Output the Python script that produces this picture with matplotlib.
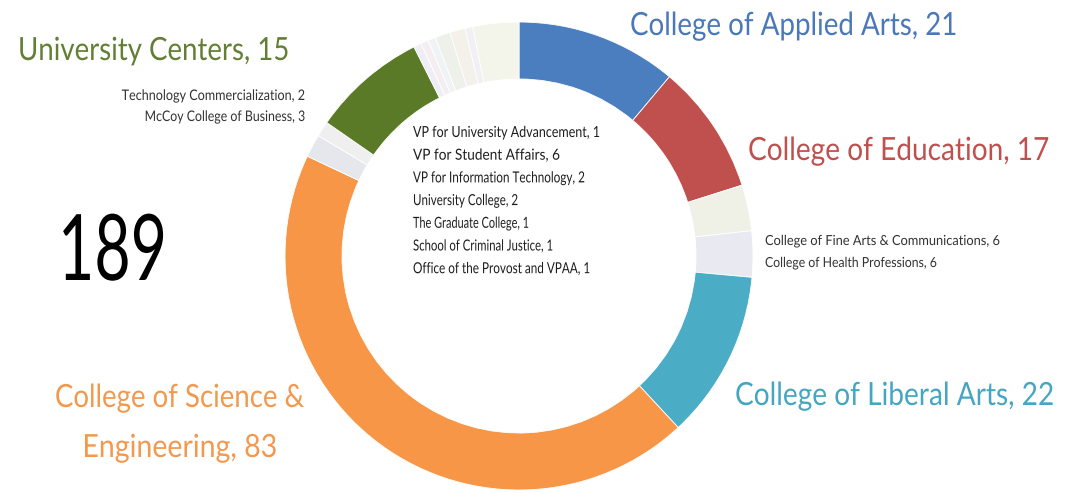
import matplotlib
matplotlib.use("Agg")
import matplotlib.pyplot as plt
import matplotlib.patheffects as pe
from matplotlib.text import Text
from matplotlib.transforms import Affine2D, Bbox

plt.rcParams['font.family'] = ['Lato', 'DejaVu Sans']

# faculty counts by unit, in clockwise order from 12 o'clock
units = ["College of Applied Arts", "College of Education",
         "College of Fine Arts & Communications", "College of Health Professions",
         "College of Liberal Arts", "College of Science & Engineering",
         "McCoy College of Business", "Technology Commercialization",
         "University Centers",
         "Office of the Provost and VPAA", "School of Criminal Justice",
         "The Graduate College", "University College",
         "VP for Information Technology", "VP for University Advancement",
         "VP for Student Affairs"]
counts = [21, 17, 6, 6, 22, 83, 3, 2, 15, 1, 1, 1, 2, 2, 1, 6]
colors = ["#4a7ebf", "#c0504d", "#eff1e6", "#e9e9f1", "#4bacc6", "#f79646",
          "#e6e7ec", "#efefef", "#5b7a27",
          "#eeeff6", "#f5eef0", "#f0f3f6", "#eef0ea", "#f3f1ea", "#f2f0f4",
          "#f3f4ea"]

# labels placed round the ring
big_labels = ["College of Applied Arts, 21", "College of Education, 17",
              "College of Liberal Arts, 22", "College of Science &\nEngineering, 83",
              "University Centers, 15"]
right_small = ["College of Fine Arts & Communications, 6",
               "College of Health Professions, 6"]
left_small = ["Technology Commercialization, 2", "McCoy College of Business, 3"]
inner_list = ["VP for University Advancement, 1", "VP for Student Affairs, 6",
              "VP for Information Technology, 2", "University College, 2",
              "The Graduate College, 1", "School of Criminal Justice, 1",
              "Office of the Provost and VPAA, 1"]
total = sum(counts)

W, H = 1068, 494
fig = plt.figure(figsize=(W / 100, H / 100), dpi=100)
ax = fig.add_axes([0, 0, 1, 1])

cx, cy = 519, H - 256
ax.pie(counts, colors=colors, startangle=90, counterclock=False,
       center=(cx, cy), radius=234,
       wedgeprops=dict(width=57, edgecolor="white", linewidth=0.6))
ax.set_xlim(0, W)
ax.set_ylim(0, H)
ax.set_aspect("equal")
ax.axis("off")

renderer = fig.canvas.get_renderer()


class Squeeze(pe.AbstractPathEffect):
    """Narrow the glyphs horizontally (condensed look) about the anchor."""

    def __init__(self, sx, ha):
        super().__init__()
        self.sx = sx
        self.ha = ha

    def draw_path(self, renderer, gc, tpath, affine, rgbFace=None):
        xs = tpath.vertices[:, 0]
        if self.ha == "right":
            a = xs.max()
        elif self.ha == "center":
            a = (xs.min() + xs.max()) / 2
        else:
            a = 0
        squeeze = Affine2D().translate(-a, 0).scale(self.sx, 1).translate(a, 0)
        renderer.draw_path(gc, tpath, squeeze + affine, rgbFace)


class NarrowText(Text):
    """Text whose reported extent follows the squeezed glyphs."""
    sx = 1.0

    def get_window_extent(self, renderer=None, dpi=None):
        bb = super().get_window_extent(renderer, dpi)
        ha = self.get_horizontalalignment()
        a = {"left": bb.x0, "right": bb.x1}.get(ha, (bb.x0 + bb.x1) / 2)
        return Bbox([[a + (bb.x0 - a) * self.sx, bb.y0],
                     [a + (bb.x1 - a) * self.sx, bb.y1]])


def put(x, y, s, width, size, color, ha="left"):
    # y is the baseline, in pixels from the top; width is the wanted text width
    t = NarrowText(x, H - y, s, fontsize=size, color=color, ha=ha, va="baseline")
    ax._add_text(t)
    w = t.get_window_extent(renderer).width
    t.sx = min(1.0, width / w)
    t.set_path_effects([Squeeze(t.sx, ha)])
    return t


put(630, 35, big_labels[0], 328, 23, "#4a78b8")
put(748, 160, big_labels[1], 302, 23, "#c0504d")
put(735, 405, big_labels[2], 320, 23, "#45a6c2")
sci1, sci2 = big_labels[3].split("\n")
put(180, 407, sci1, 250, 23, "#f2994f", ha="center")
put(180, 457, sci2, 195, 23, "#f2994f", ha="center")
put(18, 60, big_labels[4], 272, 23, "#627f33")

put(58, 280, str(total), 109, 66, "black")

put(765, 245, right_small[0], 235, 10, "#333333")
put(765, 267, right_small[1], 172, 10, "#333333")
put(307, 100, left_small[0], 185, 10.5, "#333333", ha="right")
put(307, 121, left_small[1], 162, 10.5, "#333333", ha="right")

inner_w = [187, 147, 172, 105, 116, 140, 177]
for i, s in enumerate(inner_list):
    put(413, 137 + i * 22.7, s, inner_w[i], 11, "#1e1e1e")

fig.savefig("out.png", dpi=100, facecolor="white")
